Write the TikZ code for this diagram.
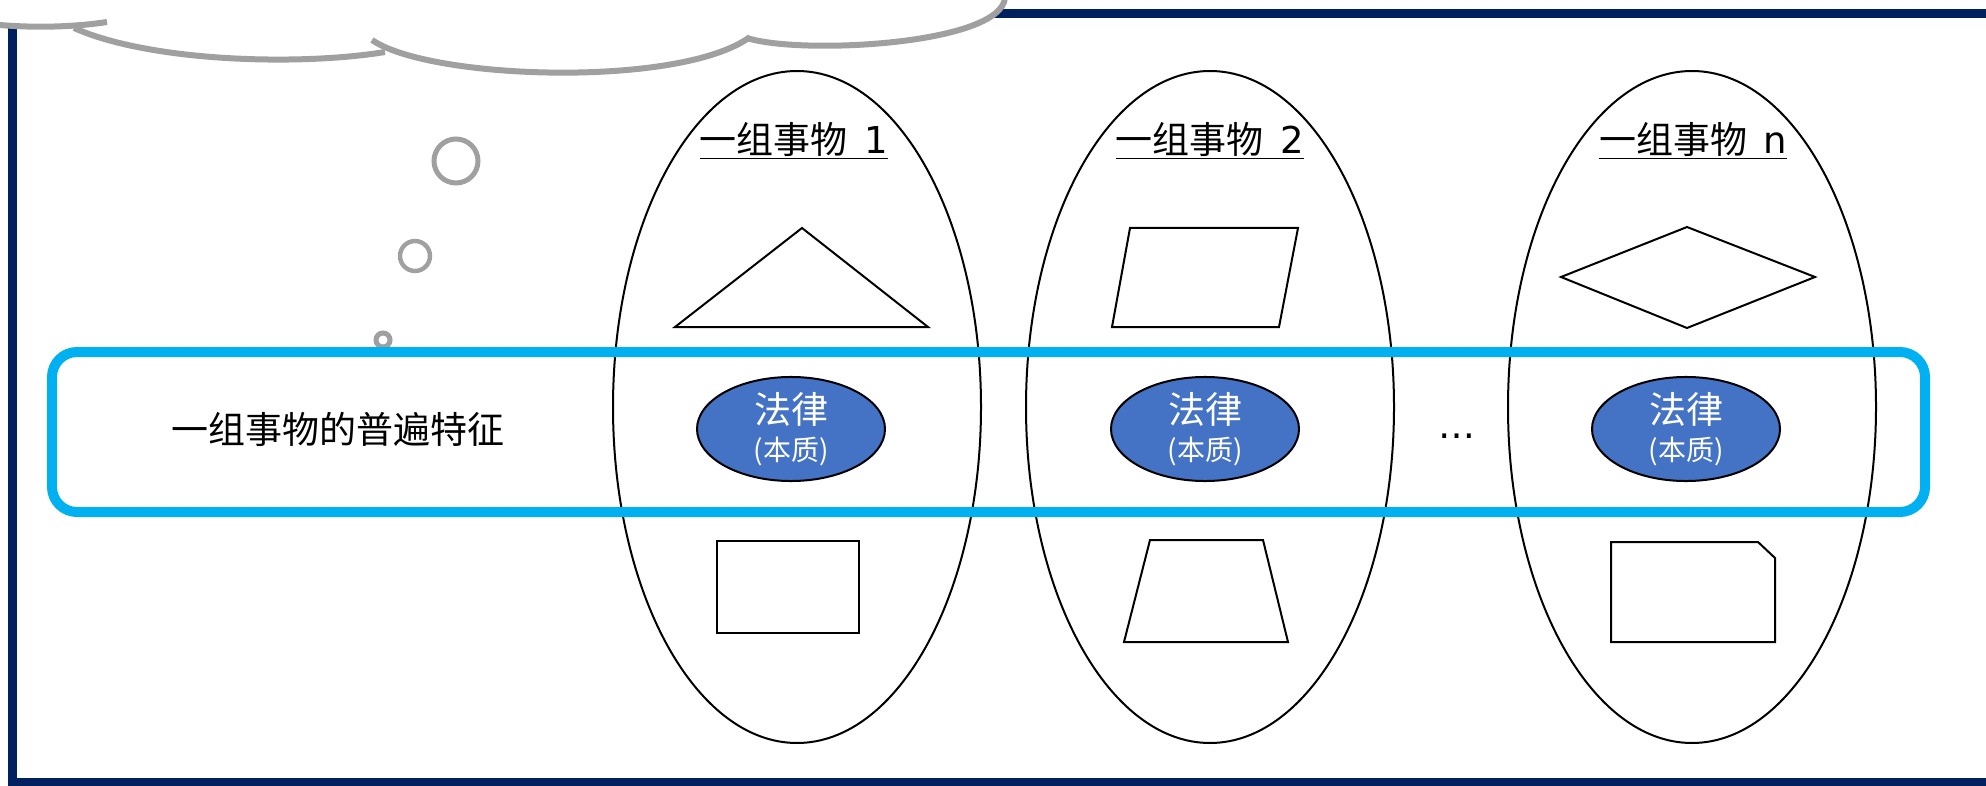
\documentclass[tikz,border=0pt]{standalone}
\usepackage{fontspec}
\setmainfont{Noto Sans CJK SC}
\newfontfamily\dejavu{DejaVu Sans}
\usetikzlibrary{shapes.geometric}
\definecolor{navy}{HTML}{002060}
\definecolor{skyb}{HTML}{00B0F0}
\definecolor{lawblue}{HTML}{4472C4}
\definecolor{cloudgray}{HTML}{A0A0A0}
\begin{document}
\begin{tikzpicture}[x=0.5pt,y=-0.5pt,
  group/.style={ellipse, draw=black, line width=1pt, minimum width=184pt, minimum height=336pt, inner sep=0pt},
  law/.style={ellipse, draw=black, line width=1pt, fill=lawblue, text=white, minimum width=94pt, minimum height=51pt, inner sep=0pt, align=center, font=\fontsize{18.5}{19.5}\selectfont},
  shapeline/.style={draw=black, line width=1pt, line join=miter},
  grouplabel/.style={font=\fontsize{18.5}{22}\selectfont, inner sep=0pt},
  bubble/.style={circle, draw=cloudgray, inner sep=0pt},
  cloudline/.style={draw=cloudgray, line width=3pt, line cap=butt},
  band/.style={draw=skyb, line width=5pt, rounded corners=12.5pt, minimum width=936.5pt, minimum height=80pt, inner sep=0pt}
]
\useasboundingbox (0,0) rectangle (1986,786);
\fill[white] (0,0) rectangle (1986,786);
% frame
\draw[navy, line width=4.5pt] (12,14) rectangle (2100,782);
% cloud fill
\fill[white] (-5,-5) -- (-5,26) -- (110,26) -- (110,-5) -- cycle;
\fill[white] (74,28) .. controls (150,62) and (300,66) .. (385,52) -- (385,-5) -- (74,-5) -- cycle;
\fill[white] (372,40) .. controls (430,80) and (680,88) .. (750,37) -- (750,-5) -- (372,-5) -- cycle;
\fill[white] (747,38) .. controls (800,55) and (1000,45) .. (1005,0) -- (1005,-5) -- (747,-5) -- cycle;
% cloud outline
\draw[cloudline] (0,25) .. controls (35,28) and (75,27) .. (107,22);
\draw[cloudline] (74,28) .. controls (150,62) and (300,66) .. (385,52);
\draw[cloudline] (372,40) .. controls (430,80) and (680,88) .. (750,37);
\draw[cloudline] (747,38) .. controls (800,55) and (1000,45) .. (1005,-2);
% thought bubbles
\node[bubble, line width=2.5pt, minimum size=22pt] (b1) at (456,161) {};
\node[bubble, line width=2.2pt, minimum size=15pt] (b2) at (415,256) {};
\node[bubble, line width=2.5pt, minimum size=7pt] (b3) at (383,340) {};
% groups
\node[group] (g1) at (797,407) {};
\node[group] (g2) at (1210,407) {};
\node[group] (gn) at (1692,407) {};
\node[grouplabel] (l1) at (794,141) {\underline{一组事物\ \ {\dejavu 1}}};
\node[grouplabel] (l2) at (1210,141) {\underline{一组事物\ \ {\dejavu 2}}};
\node[grouplabel] (ln) at (1693,141) {\underline{一组事物\ \ {\dejavu n}}};
% shapes
\draw[shapeline] (802,228) -- (928,327) -- (675,327) -- cycle;
\draw[shapeline] (717,541) rectangle (859,633);
\draw[shapeline] (1130,228) -- (1298,228) -- (1279,327) -- (1112,327) -- cycle;
\draw[shapeline] (1150,540) -- (1263,540) -- (1288,642) -- (1124,642) -- cycle;
\draw[shapeline] (1561,277) -- (1687,227) -- (1815,277) -- (1687,328) -- cycle;
\draw[shapeline] (1611,542) -- (1758,542) -- (1775,558) -- (1775,642) -- (1611,642) -- cycle;
% band
\node[band] (bandbox) at (988.5,432) {};
\node[font=\fontsize{18.5}{22}\selectfont] (feat) at (338,429) {一组事物的普遍特征};
\node[law] (law1) at (791,429) {法律\\[-1pt]{\fontsize{14}{15}\selectfont (本质)}};
\node[law] (law2) at (1205,429) {法律\\[-1pt]{\fontsize{14}{15}\selectfont (本质)}};
\node[law] (lawn) at (1686,429) {法律\\[-1pt]{\fontsize{14}{15}\selectfont (本质)}};
\node[font=\dejavu\fontsize{18.5}{22}\selectfont, anchor=base] (dots) at (1457,438) {…};
\end{tikzpicture}
\end{document}
